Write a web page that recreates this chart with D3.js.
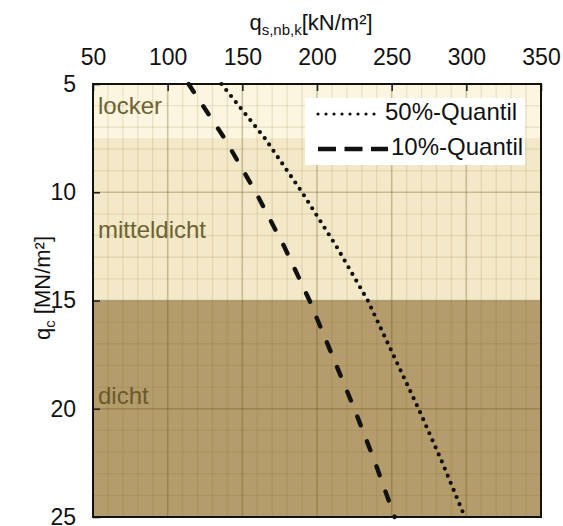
<!DOCTYPE html>
<html>
<head>
<meta charset="utf-8">
<script src="https://cdn.jsdelivr.net/npm/d3@7"></script>
<style>
  html, body { margin: 0; padding: 0; background: #ffffff; }
  svg { display: block; font-family: "Liberation Sans", Arial, sans-serif; }
</style>
</head>
<body>
<svg id="chart" width="563" height="526"></svg>
<script>
// Cone resistance q_c [MN/m²] at which the curves were read
const qcValues = [5, 7.5, 10, 12.5, 15, 17.5, 20, 22.5, 25];
// Skin friction q_s,nb,k [kN/m²], 50%-quantile
const quantil50 = [136, 165, 190, 213, 234, 251, 268, 284, 299];
// Skin friction q_s,nb,k [kN/m²], 10%-quantile
const quantil10 = [114, 138, 159, 178, 195, 210, 225, 239, 252];

// Density zones along q_c
const zoneNames = ["locker", "mitteldicht", "dicht"];
const zoneFrom = [5, 7.5, 15];
const zoneTo = [7.5, 15, 25];
const zoneLabelAt = [6.1, 11.8, 19.5];

const xTicks = [50, 100, 150, 200, 250, 300, 350];
const yTicks = [5, 10, 15, 20, 25];

const svg = d3.select("#chart");
const x = d3.scaleLinear().domain([50, 350]).range([93, 541]);
const y = d3.scaleLinear().domain([5, 25]).range([84, 517]);

const zoneFill = ["#fcf6e0", "#f3e9c9", "#b59c6c"];
const zoneText = ["#6c6330", "#6c6330", "#685a2b"];

// zone backgrounds
svg.append("g").selectAll("rect").data(zoneNames).join("rect")
  .attr("x", x(50)).attr("width", x(350) - x(50))
  .attr("y", (d, i) => y(zoneFrom[i]))
  .attr("height", (d, i) => y(zoneTo[i]) - y(zoneFrom[i]))
  .attr("fill", (d, i) => zoneFill[i]);

// grid: minor every 10 kN/m² and 1 MN/m², major at the ticks
const minorX = d3.range(60, 350, 10).filter(v => v % 50 !== 0);
const minorY = d3.range(6, 25, 1).filter(v => v % 5 !== 0);
const grid = svg.append("g");
grid.selectAll(".mx").data(minorX).join("line")
  .attr("x1", d => x(d)).attr("x2", d => x(d)).attr("y1", y(5)).attr("y2", y(25))
  .attr("stroke", "rgba(120,90,30,0.13)").attr("stroke-width", 1.4);
grid.selectAll(".my").data(minorY).join("line")
  .attr("y1", d => y(d)).attr("y2", d => y(d)).attr("x1", x(50)).attr("x2", x(350))
  .attr("stroke", "rgba(120,90,30,0.13)").attr("stroke-width", 1.4);
grid.selectAll(".Mx").data(xTicks.slice(1, -1)).join("line")
  .attr("x1", d => x(d)).attr("x2", d => x(d)).attr("y1", y(5)).attr("y2", y(25))
  .attr("stroke", "rgba(100,75,20,0.3)").attr("stroke-width", 1.6);
grid.selectAll(".My").data(yTicks.slice(1, -1)).join("line")
  .attr("y1", d => y(d)).attr("y2", d => y(d)).attr("x1", x(50)).attr("x2", x(350))
  .attr("stroke", "rgba(100,75,20,0.3)").attr("stroke-width", 1.6);

// zone labels
svg.append("g").selectAll("text").data(zoneNames).join("text")
  .attr("x", 98).attr("y", (d, i) => y(zoneLabelAt[i]))
  .attr("dominant-baseline", "middle")
  .attr("font-size", 24).attr("fill", (d, i) => zoneText[i])
  .text(d => d);

// curves
const line = d3.line().x(d => x(d[0])).y(d => y(d[1]));
svg.append("path")
  .attr("d", line(quantil50.map((v, i) => [v, qcValues[i]])))
  .attr("fill", "none").attr("stroke", "#111").attr("stroke-width", 4.2)
  .attr("stroke-linecap", "round").attr("stroke-dasharray", "0,7.7");
svg.append("path")
  .attr("d", line(quantil10.map((v, i) => [v, qcValues[i]])))
  .attr("fill", "none").attr("stroke", "#111").attr("stroke-width", 4.4)
  .attr("stroke-linecap", "round").attr("stroke-dasharray", "9.5,17.2");

// axes: top and left, ticks pointing into the plot
const axTop = svg.append("g").attr("transform", `translate(0,${y(5)})`)
  .call(d3.axisTop(x).tickValues(xTicks).tickSize(-7).tickPadding(0));
axTop.select(".domain").remove();
axTop.selectAll("line").attr("stroke", "#222").attr("stroke-width", 1.6);
axTop.selectAll("text").attr("y", -19).attr("font-size", 23).attr("fill", "#111")
  .attr("font-family", "Liberation Sans, Arial, sans-serif");

const axLeft = svg.append("g").attr("transform", `translate(${x(50)},0)`)
  .call(d3.axisLeft(y).tickValues(yTicks).tickSize(-7).tickPadding(0));
axLeft.select(".domain").remove();
axLeft.selectAll("line").attr("stroke", "#222").attr("stroke-width", 1.6);
axLeft.selectAll("text").attr("x", -17).attr("font-size", 23).attr("fill", "#111")
  .attr("font-family", "Liberation Sans, Arial, sans-serif");

// frame
svg.append("rect")
  .attr("x", x(50)).attr("y", y(5))
  .attr("width", x(350) - x(50)).attr("height", y(25) - y(5))
  .attr("fill", "none").attr("stroke", "#111").attr("stroke-width", 2);

// axis titles
const tTop = svg.append("text").attr("x", 311).attr("y", 30)
  .attr("text-anchor", "middle").attr("font-size", 22).attr("fill", "#111");
tTop.append("tspan").text("q");
tTop.append("tspan").attr("font-size", 15).attr("dy", 5).text("s,nb,k");
tTop.append("tspan").attr("dy", -5).text("[kN/m²]");

const tLeft = svg.append("text")
  .attr("transform", "translate(50,288) rotate(-90)")
  .attr("text-anchor", "middle").attr("font-size", 22).attr("fill", "#111");
tLeft.append("tspan").text("q");
tLeft.append("tspan").attr("font-size", 15).attr("dy", 5).text("c");
tLeft.append("tspan").attr("dy", -5).text(" [MN/m²]");

// legend
const lg = svg.append("g");
lg.append("rect").attr("x", 305).attr("y", 98).attr("width", 220).attr("height", 67)
  .attr("fill", "#ffffff");
const legendNames = ["50%-Quantil", "10%-Quantil"];
const legendDash = ["0,8", "18,8.5"];
const legendWidth = [3.2, 4.4];
const legendCap = ["round", "butt"];
const legendEnd = [382, 388];
lg.selectAll("line").data(legendNames).join("line")
  .attr("x1", 318).attr("x2", (d, i) => legendEnd[i])
  .attr("y1", (d, i) => 114 + i * 35).attr("y2", (d, i) => 114 + i * 35)
  .attr("stroke", "#111").attr("stroke-width", (d, i) => legendWidth[i])
  .attr("stroke-linecap", (d, i) => legendCap[i])
  .attr("stroke-dasharray", (d, i) => legendDash[i]);
lg.selectAll("text").data(legendNames).join("text")
  .attr("x", (d, i) => i === 0 ? 385 : 391)
  .attr("y", (d, i) => 114 + i * 35)
  .attr("dominant-baseline", "middle").attr("font-size", 24).attr("fill", "#111")
  .text(d => d);
</script>
</body>
</html>
